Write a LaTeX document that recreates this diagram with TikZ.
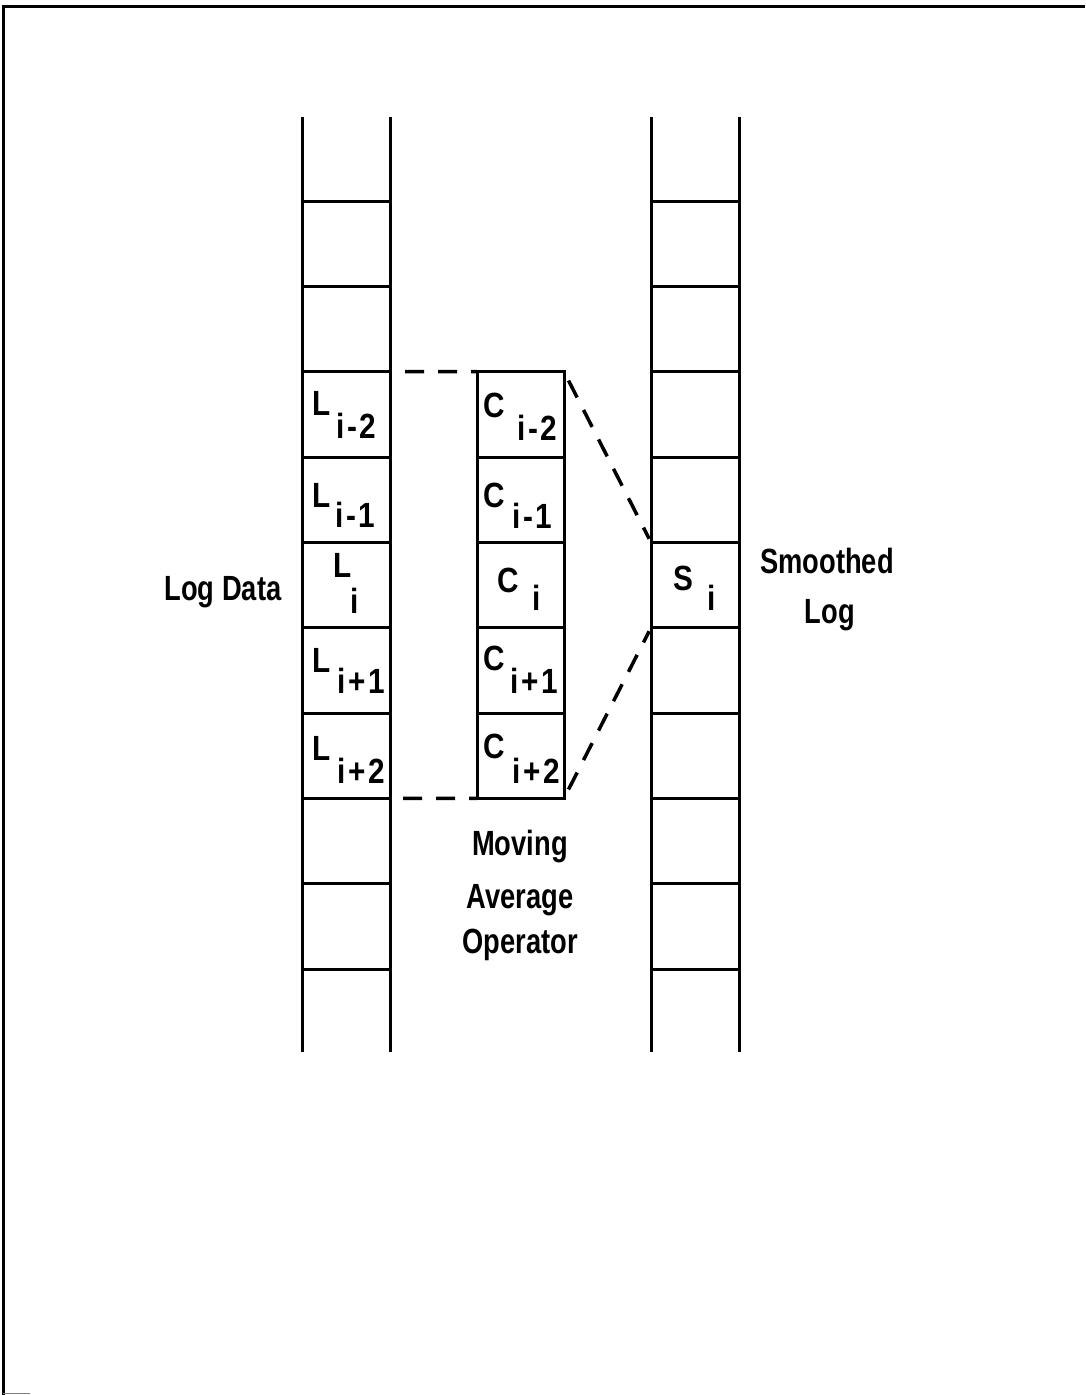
\documentclass[tikz,border=0pt]{standalone}
\usepackage{fontspec}
\newfontfamily\lab[FakeStretch=0.78]{Liberation Sans Bold}
\newfontfamily\labw[FakeStretch=0.85]{Liberation Sans Bold}
\newfontfamily\labs[FakeStretch=0.85,LetterSpace=8]{Liberation Sans Bold}
\begin{document}
\begin{tikzpicture}[x=1pt,y=-1pt,
  ln/.style={line width=3pt},
  dsh/.style={line width=3.5pt, dash pattern=on 19pt off 14pt},
  cellbox/.style={draw, line width=3pt, minimum width=87pt, minimum height=85.33pt, inner sep=0pt, outer sep=0pt},
  cellnd/.style={minimum width=88pt, minimum height=85.33pt, inner sep=0pt, outer sep=0pt},
  txt/.style={font=\labw\fontsize{35}{42}\selectfont, inner sep=0pt, anchor=base west},
  sub/.style={font=\labs\fontsize{35}{42}\selectfont, inner sep=0pt, anchor=base west},
  big/.style={font=\lab\fontsize{35}{42}\selectfont, inner sep=0pt, anchor=base}]
\useasboundingbox (0,0) rectangle (1085,1395);
% frame
\draw[line width=3pt] (1085,6) -- (3,6) -- (3,1395);
\draw[line width=1pt, gray] (3,1393) -- (30,1393);
% ladders
\foreach \xa/\xb in {302/390, 651/739}{
  \draw[ln] (\xa,117) -- (\xa,1052);
  \draw[ln] (\xb,117) -- (\xb,1052);
  \foreach \k in {0,...,9}{
    \draw[ln] (\xa,201+85.333*\k) -- (\xb,201+85.333*\k);
  }
}
% operator column
\foreach \k in {1,...,5}{
  \node[cellbox] (c\k) at (520.5,329+85.333*\k) {};
}
\node[cellnd] (s) at (695,585) {};
\coordinate (la) at (405,371.7);
\coordinate (lb) at (403,798.3);
% dashed connectors
\draw[dsh] (la) -- (c1.north west);
\draw[dsh] (lb) -- (c5.south west);
\draw[dsh, shorten <=10pt, shorten >=4pt] (c1.north east) -- (s.north west);
\draw[dsh, shorten <=10pt, shorten >=4pt] (c5.south east) -- (s.south west);
% left labels
\node[txt] (l1m) at (312,415) {L}; \node[sub] (l1s) at (336,438) {i-2};
\node[txt] (l2m) at (312,507) {L}; \node[sub] (l2s) at (335,527) {i-1};
\node[txt] (l3m) at (333,577) {L}; \node[sub] (l3s) at (350,613) {i};
\node[txt] (l4m) at (312,672) {L}; \node[sub] (l4s) at (337,693) {i+1};
\node[txt] (l5m) at (312,760) {L}; \node[sub] (l5s) at (337,783) {i+2};
% operator labels
\node[txt] (c1m) at (483,417) {C}; \node[sub] (c1s) at (517,440) {i-2};
\node[txt] (c2m) at (483,507) {C}; \node[sub] (c2s) at (512,528) {i-1};
\node[txt] (c3m) at (497,592) {C}; \node[sub] (c3s) at (532,610) {i};
\node[txt] (c4m) at (483,670) {C}; \node[sub] (c4s) at (510,693) {i+1};
\node[txt] (c5m) at (483,758) {C}; \node[sub] (c5s) at (512,783) {i+2};
% smoothed label
\node[txt] (sm) at (673,590) {S}; \node[sub] (ss) at (707,610) {i};
% captions
\node[big] (logdata) at (223,600) {Log Data};
\node[big] (smooth1) at (827,573) {Smoothed};
\node[big] (smooth2) at (830,623) {Log};
\node[big] (mov1) at (520,855) {Moving};
\node[big] (mov2) at (520,908) {Average};
\node[big] (mov3) at (520,953) {Operator};
\end{tikzpicture}
\end{document}
